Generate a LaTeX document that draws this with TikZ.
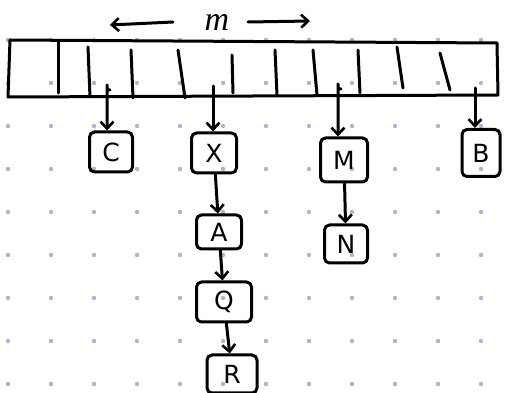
\documentclass[tikz,border=0pt]{standalone}
\usepackage{fontspec}
\setmainfont{DejaVu Sans}
\newfontfamily\labelfont{Liberation Serif}
\usetikzlibrary{arrows.meta}
\definecolor{gridblue}{RGB}{165,182,214}
\tikzset{
  ink/.style={line width=3pt, line cap=round, line join=round, draw=black},
  ptr/.style={ink, -{Straight Barb[length=7pt,width=13pt,line width=2.6pt]}},
  cell/.style={ink, rounded corners=5pt, inner sep=0pt,
    font=\fontsize{25}{25}\selectfont},
}
\begin{document}
\begin{tikzpicture}[x=1pt,y=-1pt]
\useasboundingbox (0,0) rectangle (507,393);
\fill[white] (0,0) rectangle (507,393);

% dotted grid paper
\foreach \i in {0,...,11}
  \foreach \j in {0,...,8}
    \fill[gridblue] (8+43*\i,40+43*\j) circle[radius=2.2pt];

% the array of m slots
\draw[ink] (10,40) -- (497,43) -- (498,95) -- (8,97) -- cycle;
\foreach \xa/\ya/\xb/\yb in {58/42/58/93, 88/47/90/97, 131/50/133/98,
  178/50/185/98, 232/55/233/93, 275/50/277/95, 313/50/317/95,
  358/50/360/93, 397/47/403/88, 440/53/450/90}
  \draw[ink] (\xa,\ya) -- (\xb,\yb);

% size label
\node[font=\labelfont\itshape\fontsize{34}{34}\selectfont] (m) at (217,22) {m};
\coordinate (mL) at (110,25);
\coordinate (mR) at (310,21);
\draw[ptr] ([xshift=-44pt,yshift=0pt]m.center) -- (mL);
\draw[ptr] ([xshift=31pt,yshift=0pt]m.center) -- (mR);

% chained entries
\node[cell, minimum width=43, minimum height=40] (C) at (111,152) {C};
\node[cell, minimum width=45, minimum height=40] (X) at (214,153) {X};
\node[cell, minimum width=47, minimum height=44] (M) at (344,160) {M};
\node[cell, minimum width=38, minimum height=47] (B) at (481,153) {B};
\node[cell, minimum width=45, minimum height=34] (A) at (219,232) {A};
\node[cell, minimum width=43, minimum height=38] (N) at (346,244) {N};
\node[cell, minimum width=55, minimum height=40] (Q) at (224,302) {Q};
\node[cell, minimum width=50, minimum height=38] (R) at (232,374) {R};

% slot pointers
\coordinate (pC) at (107,90);
\coordinate (pX) at (213,86);
\coordinate (pM) at (338,89);
\coordinate (pB) at (475,88);
\draw[ptr] ([xshift=3pt]pC) .. controls (pC) .. ([yshift=5pt]pC) -- (pC |- C.north);
\draw[ptr] (pX) -- (pX |- X.north);
\draw[ptr] ([xshift=3pt]pM) .. controls (pM) .. ([yshift=5pt]pM) -- (pM |- M.north);
\draw[ptr] (pB) -- (pB |- B.north);

% chain links
\draw[ptr] (X) -- (A);
\draw[ptr] (A) -- (Q);
\draw[ptr] (Q) -- (R);
\draw[ptr] (M) -- (N);
\end{tikzpicture}
\end{document}
